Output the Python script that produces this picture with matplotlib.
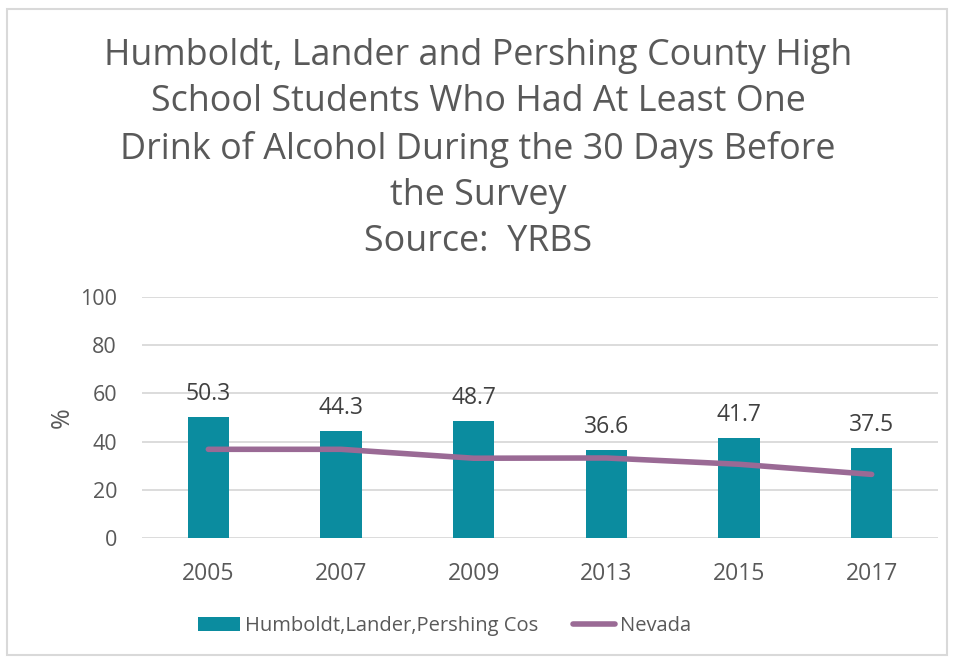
import numpy as np
import matplotlib.pyplot as plt
from matplotlib.patches import Rectangle

plt.rcParams["font.family"] = ["Open Sans", "DejaVu Sans"]

years = ["2005", "2007", "2009", "2013", "2015", "2017"]
county = [50.3, 44.3, 48.7, 36.6, 41.7, 37.5]
nevada = [36.8, 36.8, 33.1, 33.2, 30.6, 26.4]

title = ("Humboldt, Lander and Pershing County High\n"
         "School Students Who Had At Least One\n"
         "Drink of Alcohol During the 30 Days Before\n"
         "the Survey\n"
         "Source:  YRBS")

teal = "#0B8C9F"
purple = "#9A6A95"
grey_txt = "#595959"

fig = plt.figure(figsize=(9.56, 6.61), dpi=100)
fig.patches.append(Rectangle((7 / 956, 6 / 661), 940 / 956, 646 / 661,
                             transform=fig.transFigure, fill=False,
                             edgecolor="#D9D9D9", linewidth=1.5))

ax = fig.add_axes([142 / 956, 1 - 538 / 661, 796 / 956, 241 / 661])
x = np.arange(len(years))
bars = ax.bar(x, county, width=0.31, color=teal, zorder=2,
              label="Humboldt,Lander,Pershing Cos")
line, = ax.plot(x, nevada, color=purple, linewidth=4, solid_capstyle="round",
                zorder=3, label="Nevada")

for xi, v in zip(x, county):
    ax.text(xi, v + 4.5, f"{v}", ha="center", va="bottom", fontsize=16.5,
            color="#404040")

ax.set_xlim(-0.5, len(years) - 0.5)
ax.set_ylim(0, 100)
ax.set_yticks(range(0, 101, 20))
ax.set_xticks(x)
ax.set_xticklabels(years)
ax.tick_params(length=0, labelsize=16.5, labelcolor=grey_txt)
ax.tick_params(axis="y", labelsize=15.5, pad=18)
ax.tick_params(axis="x", pad=17)
ax.grid(axis="y", color="#D9D9D9", linewidth=1.3, zorder=0)
for s in ax.spines.values():
    s.set_visible(False)
ax.set_ylabel("%", fontsize=18, color=grey_txt, labelpad=4)

fig.text(0.5, 1 - 149 / 661, title, ha="center", va="center", fontsize=25.8,
         color=grey_txt, linespacing=1.37)

ax.legend(handles=[bars, line], loc="center", bbox_to_anchor=(0.38, -0.365),
          ncol=2, frameon=False, fontsize=14.5, labelcolor=grey_txt,
          handlelength=2.07, handleheight=0.65, handletextpad=0.25,
          columnspacing=1.72)

fig.savefig("out.png", dpi=100)
